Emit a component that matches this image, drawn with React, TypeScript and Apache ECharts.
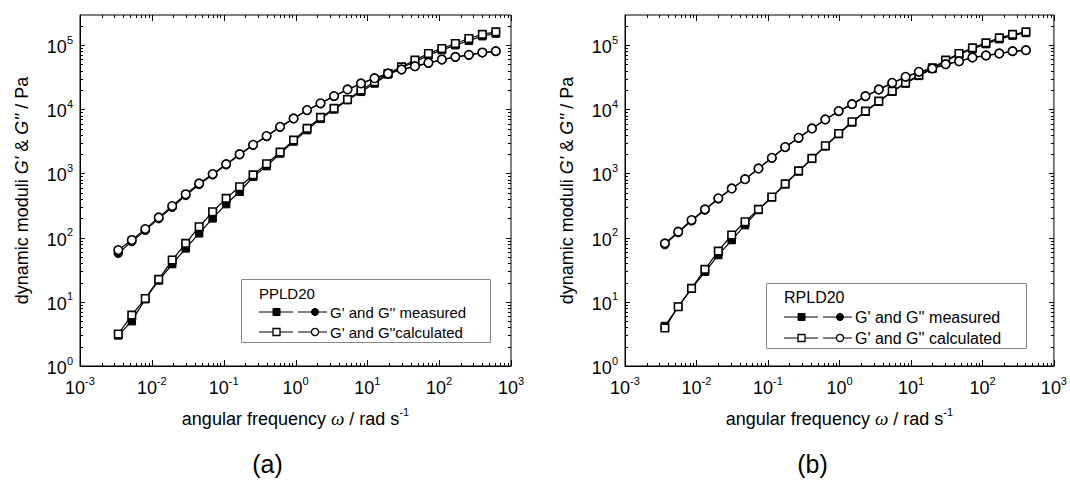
import React, { useEffect, useRef } from 'react';
import * as echarts from 'echarts';

// ---------- data ----------
const xExponents = [-3, -2, -1, 0, 1, 2, 3];
const yExponents = [0, 1, 2, 3, 4, 5];

// (a) PPLD20
const freqA = [0.00341, 0.00526, 0.0081, 0.01247, 0.01922, 0.0296, 0.0456, 0.0702, 0.1083, 0.1667, 0.257, 0.396, 0.61, 0.94, 1.449, 2.23, 3.44, 5.3, 8.16, 12.6, 19.4, 29.9, 46.0, 70.9, 109, 168, 259, 399, 615];
const gpMeasA = [3.0, 5.0, 11.0, 21.5, 38.8, 68, 117, 200, 334, 519, 889, 1303, 2050, 3150, 4745, 7110, 9960, 13900, 18750, 25300, 35000, 44800, 54900, 69800, 83600, 100000, 117000, 138000, 152000];
const gpCalcA = [3.15, 6.2, 11.3, 22.4, 44.8, 81.5, 148, 253, 410, 621, 950, 1420, 2150, 3313, 5040, 7480, 10330, 14260, 19900, 26800, 36200, 45900, 58400, 74300, 88800, 106000, 127000, 147000, 161000];
const gppMeasA = [57, 87, 130, 198, 298, 455, 675, 955, 1370, 1960, 2760, 3780, 5280, 7150, 9650, 12300, 16000, 20300, 25100, 30300, 35800, 41300, 46500, 52300, 59000, 64800, 69800, 76000, 79800];
const gppCalcA = [64, 92, 136, 207, 311, 475, 700, 980, 1400, 2000, 2800, 3830, 5340, 7210, 9730, 12400, 16100, 20400, 25300, 30600, 36200, 41800, 47100, 53000, 59800, 65700, 70600, 76900, 80700];

// (b) RPLD20
const freqB = [0.00361, 0.00555, 0.00853, 0.01313, 0.0202, 0.0311, 0.0478, 0.0736, 0.1132, 0.174, 0.268, 0.412, 0.634, 0.975, 1.5, 2.31, 3.55, 5.47, 8.41, 12.9, 19.9, 30.6, 47.1, 72.5, 112, 172, 264, 406];
const gpMeasB = [4.2, 8.4, 16.0, 29.4, 53.6, 91.8, 157, 270, 425, 680, 1080, 1690, 2650, 4120, 6250, 9200, 13100, 18800, 25200, 33200, 43000, 56500, 71500, 87000, 104000, 124000, 141000, 155000];
const gpCalcB = [3.9, 8.4, 16.2, 32, 61.8, 110, 177, 276, 430, 690, 1100, 1718, 2700, 4210, 6390, 9380, 13400, 19200, 25900, 34100, 44300, 58400, 74300, 90800, 108600, 130000, 147000, 161000];
const gppMeasB = [78, 120, 183, 270, 405, 580, 810, 1190, 1740, 2560, 3570, 5000, 6900, 9300, 11950, 15900, 20200, 25600, 31700, 37900, 42900, 50000, 55700, 63600, 68500, 73500, 79900, 82800];
const gppCalcB = [81.5, 124, 188, 276, 410, 585, 815, 1200, 1757, 2580, 3600, 5040, 6960, 9380, 12050, 16060, 20430, 25900, 32100, 38400, 43400, 50600, 56300, 64300, 69200, 74300, 80700, 83600];

const panelNames = ['PPLD20', 'RPLD20'];
const legendMeasured = ["G' and G'' measured", "G' and G'' measured"];
const legendCalculated = ["G' and G''calculated", "G' and G'' calculated"];
const panelLetters = ['(a)', '(b)'];

// ---------- layout / style ----------
const FONT = "'Liberation Sans', Arial, Helvetica, sans-serif";
const X_MIN = xExponents[0];
const X_MAX = xExponents[xExponents.length - 1];
const Y_MIN = yExponents[0];
const Y_MAX = 5.47;
const GRIDS = [
  { left: 80, top: 15, width: 431, height: 351 },
  { left: 625, top: 15, width: 431, height: 351 },
];

const minorLogs = [2, 3, 4, 5, 6, 7, 8, 9].map((k) => Math.log10(k));
const buildTicks = (lo: number, hi: number) => {
  const out: number[][] = [];
  for (let d = Math.floor(lo); d <= Math.ceil(hi); d++) {
    if (d >= lo - 1e-9 && d <= hi + 1e-9) out.push([d, 1]);
    for (const m of minorLogs) {
      const v = d + m;
      if (v > lo + 1e-9 && v < hi - 1e-9) out.push([v, 0]);
    }
  }
  return out;
};

const expLabel = (val: number) => {
  const r = Math.round(val);
  if (Math.abs(val - r) > 1e-6) return '';
  return `{b|10}{s|${r}}`;
};

const labelRich = {
  b: { fontSize: 18, fontFamily: FONT, color: '#000', verticalAlign: 'bottom', lineHeight: 22 },
  s: { fontSize: 11, fontFamily: FONT, color: '#000', verticalAlign: 'top', lineHeight: 22 },
};

const toLog = (xs: number[], ys: number[]) => xs.map((x, i) => [Math.log10(x), Math.log10(ys[i])]);

const lineSeries = (gi: number, xs: number[], ys: number[], symbol: string, filled: boolean, z: number) => ({
  type: 'line',
  xAxisIndex: gi,
  yAxisIndex: gi,
  data: toLog(xs, ys),
  symbol,
  symbolSize: symbol === 'rect' ? 7.5 : 8.5,
  showSymbol: true,
  lineStyle: { color: '#000', width: 1.2 },
  itemStyle: { color: filled ? '#000' : '#fff', borderColor: '#000', borderWidth: filled ? 1 : 1.6 },
  emphasis: { disabled: true },
  z,
});

const tickSeries = (gi: number, dir: 'x' | 'y') => ({
  type: 'custom',
  xAxisIndex: gi,
  yAxisIndex: gi,
  silent: true,
  clip: false,
  z: 5,
  encode: dir === 'x' ? { x: 0, y: 1 } : { y: 0, x: 1 },
  data: dir === 'x' ? buildTicks(X_MIN, X_MAX) : buildTicks(Y_MIN, Y_MAX),
  renderItem: (_p: any, api: any) => {
    const v = api.value(0);
    const major = api.value(1) === 1;
    const style = { stroke: '#000', lineWidth: 1 };
    if (dir === 'x') {
      const len = major ? 6 : 3;
      const b = api.coord([v, Y_MIN]);
      const t = api.coord([v, Y_MAX]);
      const x = Math.round(b[0]) + 0.5;
      return {
        type: 'group',
        children: [
          { type: 'line', shape: { x1: x, y1: b[1], x2: x, y2: b[1] - len }, style },
          { type: 'line', shape: { x1: x, y1: t[1], x2: x, y2: t[1] + len }, style },
        ],
      };
    }
    const len = major ? 5 : 3;
    const l = api.coord([X_MIN, v]);
    const r = api.coord([X_MAX, v]);
    const y = Math.round(l[1]) + 0.5;
    return {
      type: 'group',
      children: [
        { type: 'line', shape: { x1: l[0], y1: y, x2: l[0] + len, y2: y }, style },
        { type: 'line', shape: { x1: r[0], y1: y, x2: r[0] - len, y2: y }, style },
      ],
    };
  },
});

const legendGraphic = (gi: number, box: { x: number; y: number; w: number; h: number; fs: number; line1: number; line2: number }) => {
  const g = GRIDS[gi];
  const ox = box.x;
  const children: any[] = [];
  children.push({ type: 'rect', shape: { x: ox + 0.5, y: box.y + 0.5, width: box.w, height: box.h }, style: { fill: '#fff', stroke: '#888', lineWidth: 1 } });
  children.push({ type: 'text', x: ox + 18, y: box.y + 14, style: { text: panelNames[gi], font: `${box.fs}px ${FONT}`, fill: '#000', verticalAlign: 'middle' } });
  const rows = [
    { y: box.y + box.line1, filled: true, text: legendMeasured[gi] },
    { y: box.y + box.line2, filled: false, text: legendCalculated[gi] },
  ];
  for (const row of rows) {
    const sx = ox + 18;
    const fill = row.filled ? '#000' : '#fff';
    children.push({ type: 'line', shape: { x1: sx, y1: row.y, x2: sx + 34, y2: row.y }, style: { stroke: '#000', lineWidth: 1 } });
    children.push({ type: 'rect', shape: { x: sx + 14, y: row.y - 3.5, width: 7, height: 7 }, style: { fill, stroke: '#000', lineWidth: row.filled ? 1 : 1.3 } });
    children.push({ type: 'line', shape: { x1: sx + 39, y1: row.y, x2: sx + 68, y2: row.y }, style: { stroke: '#000', lineWidth: 1 } });
    children.push({ type: 'circle', shape: { cx: sx + 56, cy: row.y, r: 3.6 }, style: { fill, stroke: '#000', lineWidth: row.filled ? 1 : 1.3 } });
    children.push({ type: 'text', x: sx + 71, y: row.y, style: { text: row.text, font: `${box.fs}px ${FONT}`, fill: '#000', verticalAlign: 'middle' } });
  }
  children.push({
    type: 'text',
    x: g.left + g.width / 2 - 28,
    y: 464,
    style: { text: panelLetters[gi], font: `25px ${FONT}`, fill: '#000', align: 'center', verticalAlign: 'middle' },
  });
  return { type: 'group', children };
};

export default function App() {
  const ref = useRef<HTMLDivElement>(null);
  useEffect(() => {
    if (!ref.current) return;
    const chart = echarts.init(ref.current, undefined, { renderer: 'svg' });
    const grid = GRIDS.map((g) => ({ ...g, show: true, borderColor: '#000', borderWidth: 1, backgroundColor: 'transparent', containLabel: false }));
    const xAxis = GRIDS.map((_, i) => ({
      type: 'value',
      gridIndex: i,
      min: X_MIN,
      max: X_MAX,
      interval: 1,
      splitLine: { show: false },
      axisTick: { show: false },
      axisLine: { show: true, onZero: false, lineStyle: { color: '#000', width: 1 } },
      axisLabel: { formatter: expLabel, margin: 9, rich: labelRich, color: '#000', showMinLabel: true, showMaxLabel: true },
      name: '{n|angular frequency }{w|ω}{n| / rad s}{s|-1}',
      nameLocation: 'middle',
      nameGap: 40,
      nameTextStyle: {
        color: '#000',
        rich: {
          n: { fontSize: 18, fontFamily: FONT, color: '#000', verticalAlign: 'bottom', lineHeight: 22 },
          w: { fontSize: 19, fontFamily: "'Liberation Serif', 'DejaVu Serif', serif", fontStyle: 'italic', color: '#000', verticalAlign: 'bottom', lineHeight: 22 },
          s: { fontSize: 11, fontFamily: FONT, color: '#000', verticalAlign: 'top', lineHeight: 22 },
        },
      },
    }));
    const yAxis = GRIDS.map((_, i) => ({
      type: 'value',
      gridIndex: i,
      min: Y_MIN,
      max: Y_MAX,
      interval: 1,
      splitLine: { show: false },
      axisTick: { show: false },
      axisLine: { show: true, onZero: false, lineStyle: { color: '#000', width: 1 } },
      axisLabel: { formatter: expLabel, margin: 7, rich: labelRich, color: '#000' },
      name: "{n|dynamic moduli }{i|G'}{n| & }{i|G''}{n| / Pa}",
      nameLocation: 'middle',
      nameGap: 49,
      nameTextStyle: {
        color: '#000',
        rich: {
          n: { fontSize: 18, fontFamily: FONT, color: '#000' },
          i: { fontSize: 18, fontFamily: FONT, fontStyle: 'italic', color: '#000' },
        },
      },
    }));
    const series: any[] = [
      tickSeries(0, 'x'), tickSeries(0, 'y'), tickSeries(1, 'x'), tickSeries(1, 'y'),
      lineSeries(0, freqA, gpMeasA, 'rect', true, 10),
      lineSeries(0, freqA, gppMeasA, 'circle', true, 10),
      lineSeries(0, freqA, gpCalcA, 'rect', false, 11),
      lineSeries(0, freqA, gppCalcA, 'circle', false, 11),
      lineSeries(1, freqB, gpMeasB, 'rect', true, 10),
      lineSeries(1, freqB, gppMeasB, 'circle', true, 10),
      lineSeries(1, freqB, gpCalcB, 'rect', false, 11),
      lineSeries(1, freqB, gppCalcB, 'circle', false, 11),
    ];
    chart.setOption({
      animation: false,
      backgroundColor: '#fff',
      grid,
      xAxis,
      yAxis,
      series,
      graphic: [
        legendGraphic(0, { x: 241, y: 279, w: 249, h: 63, fs: 15, line1: 33, line2: 53 }),
        legendGraphic(1, { x: 766, y: 283, w: 260, h: 65, fs: 16, line1: 34, line2: 55 }),
      ],
    });
    return () => chart.dispose();
  }, []);
  return <div ref={ref} style={{ position: 'fixed', left: 0, top: 0, width: 1070, height: 481 }} />;
}
